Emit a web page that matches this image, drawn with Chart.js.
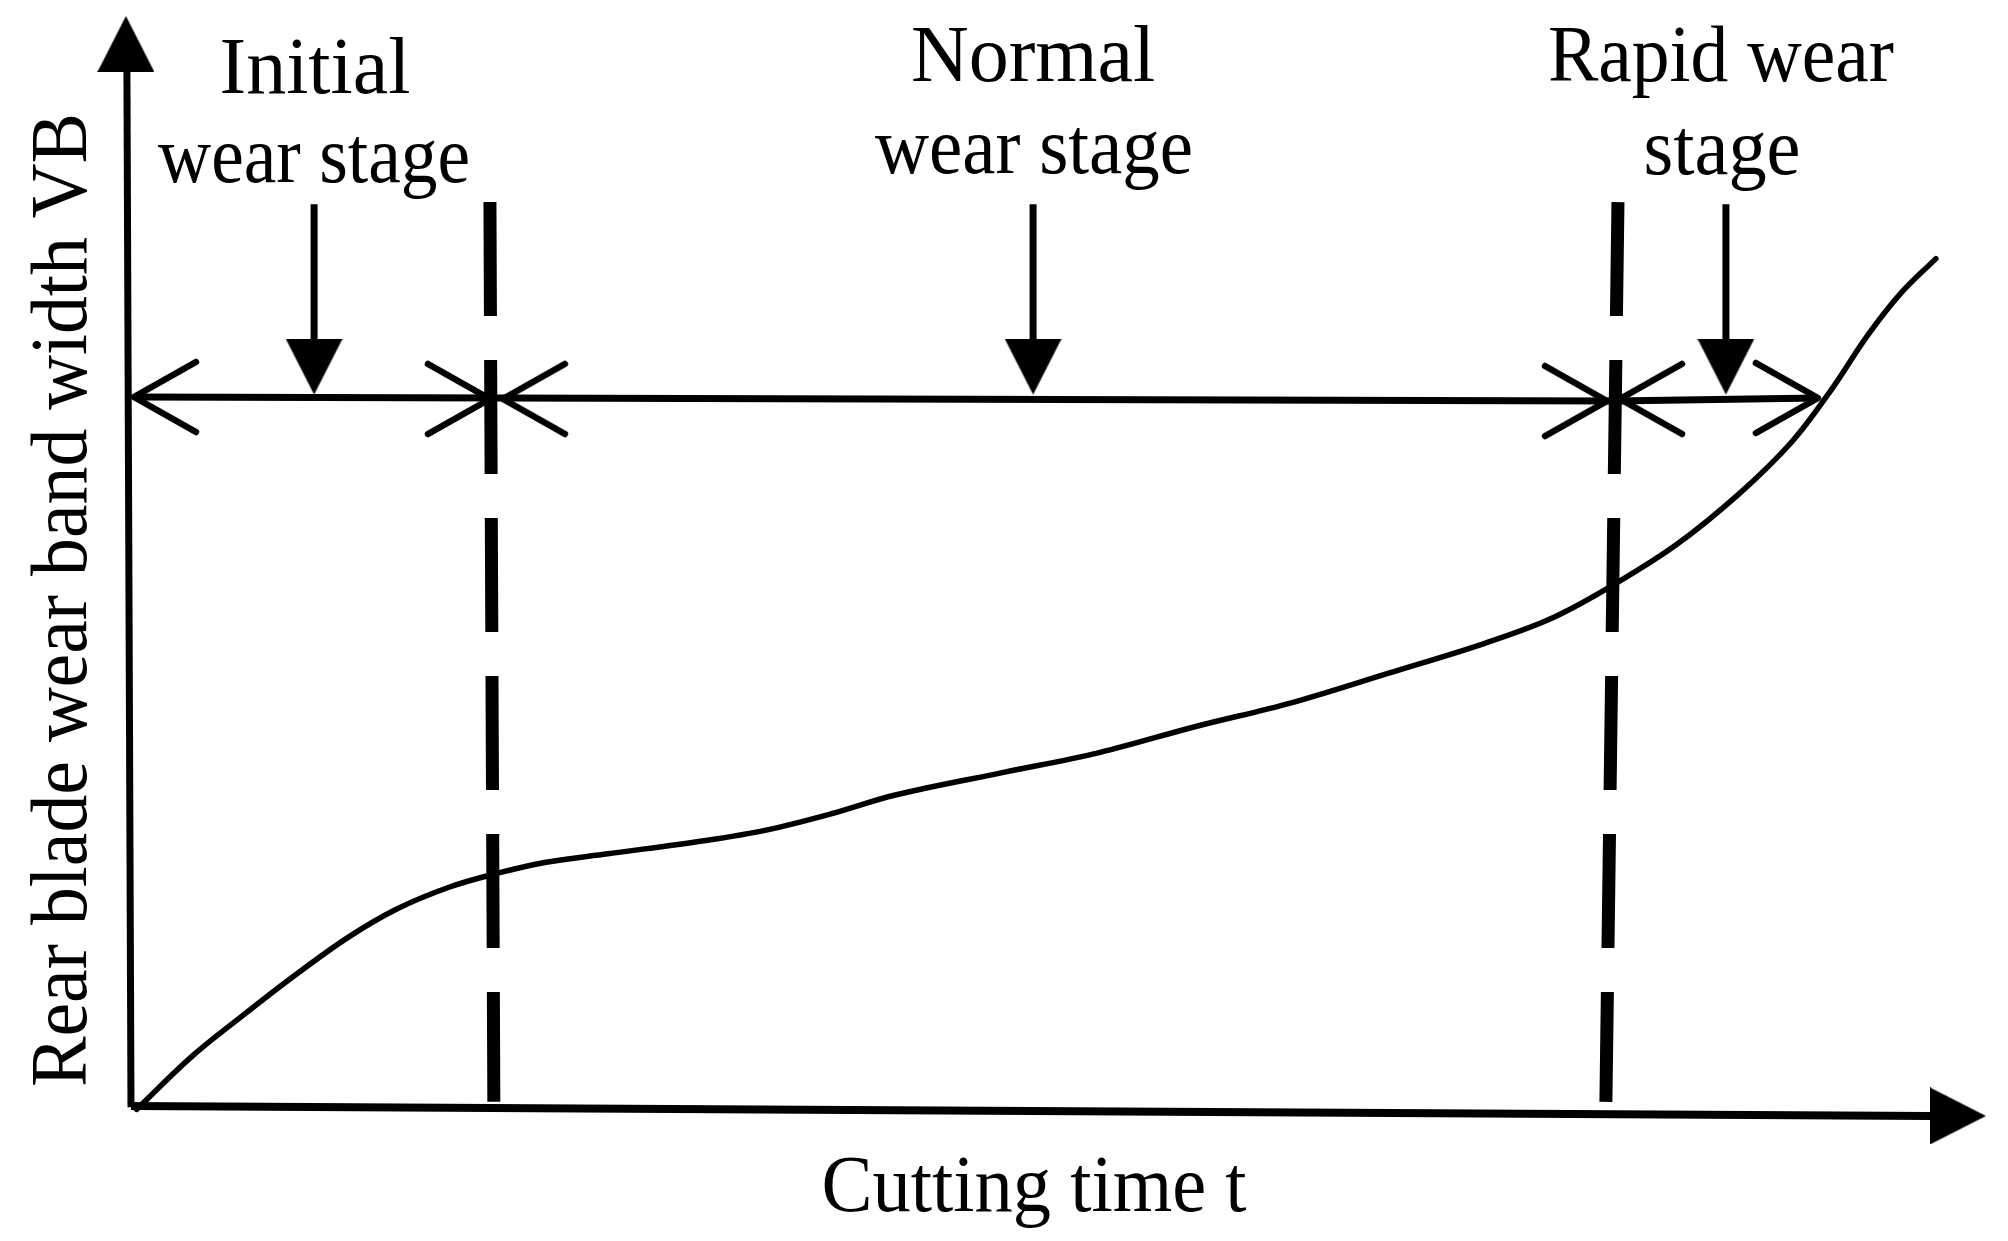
<!DOCTYPE html>
<html>
<head>
<meta charset="utf-8">
<script src="https://cdn.jsdelivr.net/npm/chart.js@4.4.1/dist/chart.umd.min.js"></script>
<style>
html,body{margin:0;padding:0;background:#fff;}
#wrap{width:2008px;height:1241px;position:relative;}
</style>
</head>
<body>
<div id="wrap"><canvas id="c"></canvas></div>
<script>
// ---------------- data ----------------
const stageNames = ['Initial wear stage', 'Normal wear stage', 'Rapid wear stage'];
const stageLabelLines = [['Initial', 'wear stage'], ['Normal', 'wear stage'], ['Rapid wear', 'stage']];
const xAxisTitle = 'Cutting time t';
const yAxisTitle = 'Rear blade wear band width VB';

// wear curve VB(t)
const cuttingTime = [0.3, 3.3, 6.0, 8.5, 11.6, 14.3, 17.1, 19.5, 22.3, 25.7, 30.9, 34.3, 37.8, 41.2, 47.1,
                     52.2, 57.4, 62.6, 67.8, 72.9, 76.4, 79.5, 83.3, 86.7, 89.5, 91.6, 93.6, 95.4, 97.3];
const wearWidth   = [-0.5, 4.4, 8.1, 11.4, 15.2, 17.9, 19.9, 21.1, 22.2, 23.0, 24.2, 25.2, 26.7, 28.4, 30.5,
                     32.3, 34.7, 36.9, 39.6, 42.3, 44.5, 47.3, 51.4, 56.1, 60.8, 65.5, 70.6, 74.5, 77.7];

// stage boundaries (dashed lines)
const boundaryTopTime = [19.35, 80.16];
const boundaryBottomTime = [19.56, 79.51];
const boundaryTopWear = 82.9;
const boundaryBottomWear = 0.2;

// double-headed span arrow
const spanTime = [0.16, 79.95, 90.94];
const spanWear = [64.98, 64.61, 64.89];
const chevronTime = [0.16, 19.35, 20.05, 79.57, 80.27, 90.94];
const chevronWear = [64.98, 64.80, 64.80, 64.61, 64.80, 64.89];
const chevronPointsLeft = [true, false, true, false, true, false];

// pointer arrows to each stage
const pointerTime = [9.87, 48.63, 85.98];
const pointerTopWear = 82.7;
const pointerBaseWear = 69.8;
const pointerTipWear = 65.2;

// axes
const yAxisTime = [0, -0.22];
const yAxisWear = [-0.3, 95];
const yAxisTip = {t: -0.27, w: 100};
const xAxisTime = [0, 97];
const xAxisWear = [-0.18, -1.10];
const xAxisTip = {t: 100, w: -1.10};

// ---------------- drawing ----------------
function makeArrowHead(w, h) {
  const c = document.createElement('canvas');
  c.width = w; c.height = 2 * h;
  const g = c.getContext('2d');
  g.fillStyle = '#000';
  g.beginPath(); g.moveTo(0, 0); g.lineTo(w, 0); g.lineTo(w / 2, h); g.closePath(); g.fill();
  return c;
}
function makeChevron(dx, dy, lw) {
  const pad = Math.ceil(lw);
  const c = document.createElement('canvas');
  c.width = 2 * (dx + pad); c.height = 2 * (dy + pad);
  const g = c.getContext('2d');
  const cx = dx + pad, cy = dy + pad;
  g.strokeStyle = '#000'; g.lineWidth = lw; g.lineCap = 'round'; g.lineJoin = 'round';
  g.beginPath(); g.moveTo(cx - dx, cy - dy); g.lineTo(cx, cy); g.lineTo(cx - dx, cy + dy); g.stroke();
  return c;
}

const textPlugin = {
  id: 'diagramText',
  afterDatasetsDraw(chart, args, opts) {
    const {ctx} = chart;
    const xs = chart.scales.x, ys = chart.scales.y;
    ctx.save();
    ctx.fillStyle = '#000';
    ctx.textAlign = 'center';
    ctx.textBaseline = 'alphabetic';
    for (const it of opts.items) {
      ctx.save();
      ctx.font = opts.font;
      ctx.translate(xs.getPixelForValue(it.x), ys.getPixelForValue(it.y));
      if (it.rotation) ctx.rotate(it.rotation * Math.PI / 180);
      if (it.maxWidth) ctx.fillText(it.text, 0, 0, it.maxWidth);
      else ctx.fillText(it.text, 0, 0);
      ctx.restore();
    }
    ctx.restore();
  }
};

function draw() {
  const arrowHead = makeArrowHead(57, 56);
  const chevron = makeChevron(62, 35, 6.5);
  const base = {showLine: true, clip: false, pointRadius: 0, borderColor: '#000', backgroundColor: '#000', fill: false};

  const datasets = [];
  // curve
  datasets.push(Object.assign({}, base, {
    label: 'VB', data: cuttingTime.map((t, i) => ({x: t, y: wearWidth[i]})),
    borderWidth: 5.5, tension: 0.35, borderCapStyle: 'round', borderJoinStyle: 'round'
  }));
  // axes
  datasets.push(Object.assign({}, base, {
    label: 'y axis', data: yAxisTime.map((t, i) => ({x: t, y: yAxisWear[i]})), borderWidth: 7
  }));
  datasets.push(Object.assign({}, base, {
    label: 'x axis', data: xAxisTime.map((t, i) => ({x: t, y: xAxisWear[i]})), borderWidth: 8
  }));
  // stage boundaries
  boundaryTopTime.forEach((t, i) => {
    datasets.push(Object.assign({}, base, {
      label: 'boundary ' + (i + 1),
      data: [{x: t, y: boundaryTopWear}, {x: boundaryBottomTime[i], y: boundaryBottomWear}],
      borderWidth: 13, borderDash: [114, 44], borderCapStyle: 'butt'
    }));
  });
  // span arrow shaft
  datasets.push(Object.assign({}, base, {
    label: 'span', data: spanTime.map((t, i) => ({x: t, y: spanWear[i]})), borderWidth: 7
  }));
  // pointer stems
  pointerTime.forEach((t, i) => {
    datasets.push(Object.assign({}, base, {
      label: stageNames[i] + ' pointer',
      data: [{x: t, y: pointerTopWear}, {x: t, y: pointerBaseWear}], borderWidth: 7
    }));
  });
  // chevrons
  datasets.push(Object.assign({}, base, {
    label: 'chevrons', showLine: false,
    data: chevronTime.map((t, i) => ({x: t, y: chevronWear[i]})),
    pointStyle: chevron, pointRadius: 40,
    pointRotation: chevronPointsLeft.map(l => l ? 180 : 0)
  }));
  // filled arrowheads (tip at data point)
  const headPts = [{x: yAxisTip.t, y: yAxisTip.w}, {x: xAxisTip.t, y: xAxisTip.w}]
    .concat(pointerTime.map(t => ({x: t, y: pointerTipWear})));
  datasets.push(Object.assign({}, base, {
    label: 'arrowheads', showLine: false, data: headPts,
    pointStyle: arrowHead, pointRadius: 40,
    pointRotation: [180, 270, 0, 0, 0]
  }));

  const items = [
    {text: stageLabelLines[0][0], x: 9.92, y: 92.92},
    {text: stageLabelLines[0][1], x: 9.87, y: 84.74, maxWidth: 312},
    {text: stageLabelLines[1][0], x: 48.63, y: 94.03},
    {text: stageLabelLines[1][1], x: 48.68, y: 85.57, maxWidth: 318},
    {text: stageLabelLines[2][0], x: 85.71, y: 94.03, maxWidth: 346},
    {text: stageLabelLines[2][1], x: 85.77, y: 85.48, maxWidth: 157},
    {text: xAxisTitle, x: 48.68, y: -9.83, maxWidth: 425},
    {text: yAxisTitle, x: -2.43, y: 46.32, rotation: -90, maxWidth: 974}
  ];

  new Chart(document.getElementById('c'), {
    type: 'scatter',
    data: {datasets},
    options: {
      responsive: true, maintainAspectRatio: false, devicePixelRatio: 1, animation: false,
      events: [],
      layout: {autoPadding: false, padding: {left: 131, right: 22, top: 16, bottom: 137}},
      scales: {
        x: {type: 'linear', min: 0, max: 100, display: false},
        y: {type: 'linear', min: 0, max: 100, display: false}
      },
      plugins: {
        legend: {display: false},
        tooltip: {enabled: false},
        diagramText: {font: '80px "Liberation Serif"', items}
      }
    },
    plugins: [textPlugin]
  });
}

if (document.fonts && document.fonts.load) {
  document.fonts.load('80px "Liberation Serif"').then(draw, draw);
} else {
  draw();
}
</script>
</body>
</html>
